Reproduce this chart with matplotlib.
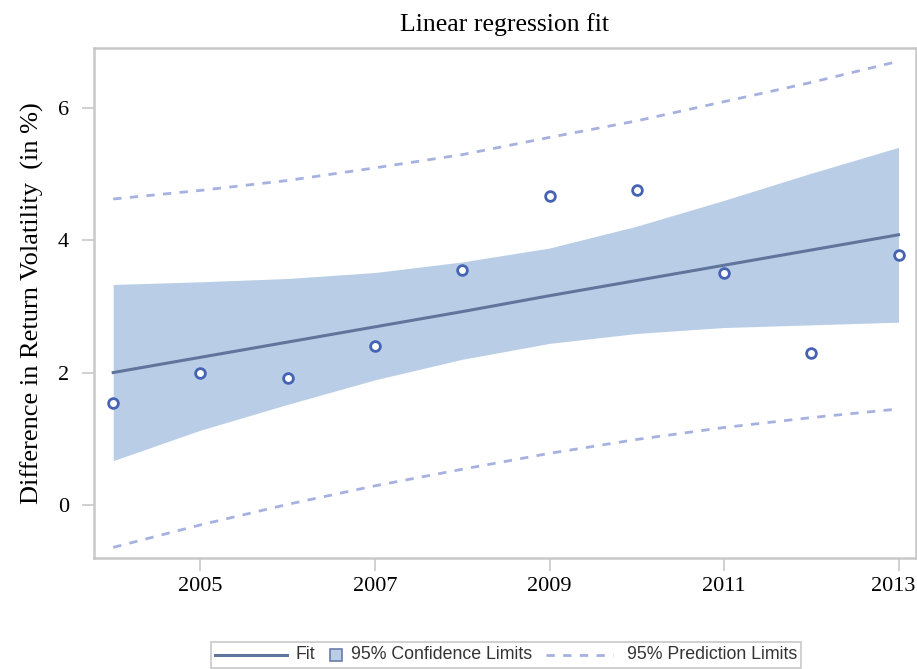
import matplotlib
matplotlib.use("Agg")
import matplotlib.pyplot as plt
from matplotlib.lines import Line2D
from matplotlib.patches import Rectangle
from matplotlib.transforms import ScaledTranslation
from matplotlib.offsetbox import DrawingArea, TextArea, HPacker, AnchoredOffsetbox

years = [2004, 2005, 2006, 2007, 2008, 2009, 2010, 2011, 2012, 2013]
observed = [1.54, 2.00, 1.92, 2.40, 3.55, 4.67, 4.75, 3.51, 2.29, 3.77]
fit = [2.00, 2.23, 2.46, 2.69, 2.92, 3.16, 3.39, 3.62, 3.85, 4.08]
ci_upper = [3.33, 3.37, 3.42, 3.51, 3.67, 3.88, 4.21, 4.60, 5.01, 5.40]
ci_lower = [0.67, 1.13, 1.52, 1.89, 2.20, 2.44, 2.59, 2.68, 2.72, 2.76]
pi_upper = [4.62, 4.75, 4.90, 5.09, 5.29, 5.55, 5.80, 6.09, 6.38, 6.70]
pi_lower = [-0.64, -0.30, 0.01, 0.29, 0.54, 0.78, 0.99, 1.17, 1.32, 1.45]
xticks = [2005, 2007, 2009, 2011, 2013]
yticks = [0, 2, 4, 6]

title = "Linear regression fit"
ylabel = "Difference in Return Volatility  (in %)"
legend_labels = ["Fit", "95% Confidence Limits", "95% Prediction Limits"]

fig = plt.figure(figsize=(9.17, 6.69), dpi=100)
ax = fig.add_axes([94/917, 1-558/669, (916-94)/917, (558-48)/669])

band_c = "#b9cee6"
fit_c = "#61759c"
mark_c = "#4563b2"
pred_c = "#a7b1e0"

ax.fill_between(years, ci_lower, ci_upper, color=band_c, lw=0, zorder=1)
ax.plot(years, fit, color=fit_c, lw=2.2, zorder=3)
ax.plot(years, pi_upper, color=pred_c, lw=2, ls=(0, (3, 3)), zorder=2)
ax.plot(years, pi_lower, color=pred_c, lw=2, ls=(0, (3, 3)), zorder=2)
ax.plot(years, observed, ls="none", marker="o", ms=7, mfc="white",
        mec=mark_c, mew=2, zorder=4)

ax.set_xlim(2003.78, 2013.2)
ax.set_ylim(-0.8, 6.9)
ax.set_xticks(xticks)
ax.set_yticks(yticks)

serif = "Liberation Serif"
ax.set_xticklabels([str(t) for t in xticks], fontfamily=serif, fontsize=16)
ax.set_yticklabels([str(t) for t in yticks], fontfamily=serif, fontsize=16)
ax.tick_params(axis="both", direction="out", length=9, width=1.2,
               color="#c8c8c8")
ax.tick_params(axis="x", pad=5)
ax.tick_params(axis="y", pad=9)
last = ax.get_xticklabels()[-1]
last.set_transform(last.get_transform() + ScaledTranslation(-5/100, 0, fig.dpi_scale_trans))
for s in ax.spines.values():
    s.set_color("#c8c8c8")
    s.set_linewidth(1.8)

ax.set_title(title, fontfamily=serif, fontsize=18.5, pad=12)
ax.set_ylabel(ylabel, fontfamily=serif, fontsize=19, labelpad=10)

# legend built with offsetboxes (per-entry handle widths like the original)
tp = dict(family="Liberation Sans", size=12.8, color="#333333")
da_fit = DrawingArea(52, 10, 0, 0)
da_fit.add_artist(Line2D([0, 52], [5, 5], color=fit_c, lw=2.2))
da_ci = DrawingArea(10, 10, 0, 0)
da_ci.add_artist(Rectangle((0.5, 0.5), 9, 9, facecolor=band_c, edgecolor="#6c7da8", lw=1.2))
da_pi = DrawingArea(48, 10, 0, 0)
da_pi.add_artist(Line2D([0, 48], [5, 5], color=pred_c, lw=2, ls=(0, (3, 3))))

pairs = [
    HPacker(children=[da_fit, TextArea(legend_labels[0], textprops=tp)], sep=6, pad=0, align="center"),
    HPacker(children=[da_ci, TextArea(legend_labels[1], textprops=tp)], sep=6, pad=0, align="center"),
    HPacker(children=[da_pi, TextArea(legend_labels[2], textprops=tp)], sep=10, pad=0, align="center"),
]
row = HPacker(children=pairs, sep=10, pad=0, align="center")
box = AnchoredOffsetbox(loc="lower center", child=row, pad=0.3, borderpad=0,
                        frameon=True, bbox_to_anchor=(0.552, 1.5/669),
                        bbox_transform=fig.transFigure)
box.patch.set_edgecolor("#c8c8c8")
box.patch.set_linewidth(1.2)
fig.add_artist(box)

fig.savefig("out.png", dpi=100)
